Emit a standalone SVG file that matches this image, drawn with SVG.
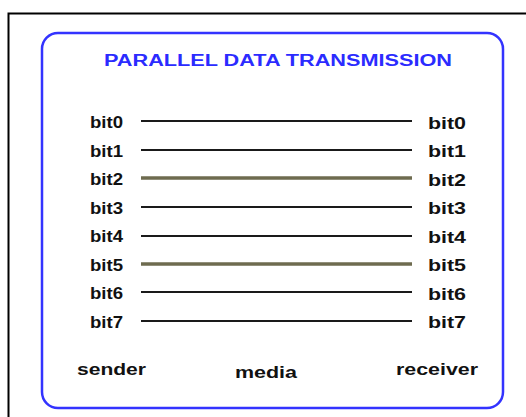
<svg xmlns="http://www.w3.org/2000/svg" width="526" height="417" viewBox="0 0 526 417">
<style>
.lbl{font-family:"Liberation Sans",Arial,sans-serif;font-weight:bold;font-size:16px;fill:#111}
.title{font-family:"Liberation Sans",Arial,sans-serif;font-weight:bold;font-size:16px;fill:#2b2bff}
.w{stroke:#1a1a1a;stroke-width:2}
.o{stroke:#6e6b4f;stroke-width:3.5}
</style>
<rect x="0" y="0" width="526" height="417" fill="#fff"/>
<rect x="8.5" y="13.5" width="530" height="420" fill="none" stroke="#000" stroke-width="2"/>
<g id="frame">
<rect x="42" y="33" width="461" height="375" rx="16" fill="none" stroke="#3333ff" stroke-width="2.5"/>
<text class="title" x="104" y="66" textLength="348" lengthAdjust="spacingAndGlyphs">PARALLEL DATA TRANSMISSION</text>
</g>
<g id="sender">
<text class="lbl" x="90" y="128" textLength="33" lengthAdjust="spacingAndGlyphs">bit0</text>
<text class="lbl" x="90" y="157" textLength="33" lengthAdjust="spacingAndGlyphs">bit1</text>
<text class="lbl" x="90" y="185" textLength="33" lengthAdjust="spacingAndGlyphs">bit2</text>
<text class="lbl" x="90" y="214" textLength="33" lengthAdjust="spacingAndGlyphs">bit3</text>
<text class="lbl" x="90" y="242" textLength="33" lengthAdjust="spacingAndGlyphs">bit4</text>
<text class="lbl" x="90" y="271" textLength="33" lengthAdjust="spacingAndGlyphs">bit5</text>
<text class="lbl" x="90" y="299" textLength="33" lengthAdjust="spacingAndGlyphs">bit6</text>
<text class="lbl" x="90" y="328" textLength="33" lengthAdjust="spacingAndGlyphs">bit7</text>
<text class="lbl" x="77" y="375" textLength="69" lengthAdjust="spacingAndGlyphs">sender</text>
</g>
<g id="receiver">
<text class="lbl" x="428" y="129" textLength="38" lengthAdjust="spacingAndGlyphs">bit0</text>
<text class="lbl" x="428" y="157" textLength="38" lengthAdjust="spacingAndGlyphs">bit1</text>
<text class="lbl" x="428" y="186" textLength="38" lengthAdjust="spacingAndGlyphs">bit2</text>
<text class="lbl" x="428" y="214" textLength="38" lengthAdjust="spacingAndGlyphs">bit3</text>
<text class="lbl" x="428" y="243" textLength="38" lengthAdjust="spacingAndGlyphs">bit4</text>
<text class="lbl" x="428" y="271" textLength="38" lengthAdjust="spacingAndGlyphs">bit5</text>
<text class="lbl" x="428" y="300" textLength="38" lengthAdjust="spacingAndGlyphs">bit6</text>
<text class="lbl" x="428" y="328" textLength="38" lengthAdjust="spacingAndGlyphs">bit7</text>
<text class="lbl" x="396" y="375" textLength="82" lengthAdjust="spacingAndGlyphs">receiver</text>
</g>
<g id="media">
<text class="lbl" x="235" y="378" textLength="62" lengthAdjust="spacingAndGlyphs">media</text>
</g>
<g id="connectors">
<line class="w" x1="141" y1="121" x2="412" y2="121"/>
<line class="w" x1="141" y1="150" x2="412" y2="150"/>
<line class="o" x1="141" y1="178" x2="412" y2="178"/>
<line class="w" x1="141" y1="207" x2="412" y2="207"/>
<line class="w" x1="141" y1="236" x2="412" y2="236"/>
<line class="o" x1="141" y1="264" x2="412" y2="264"/>
<line class="w" x1="141" y1="292" x2="412" y2="292"/>
<line class="w" x1="141" y1="321" x2="412" y2="321"/>
</g>
</svg>
